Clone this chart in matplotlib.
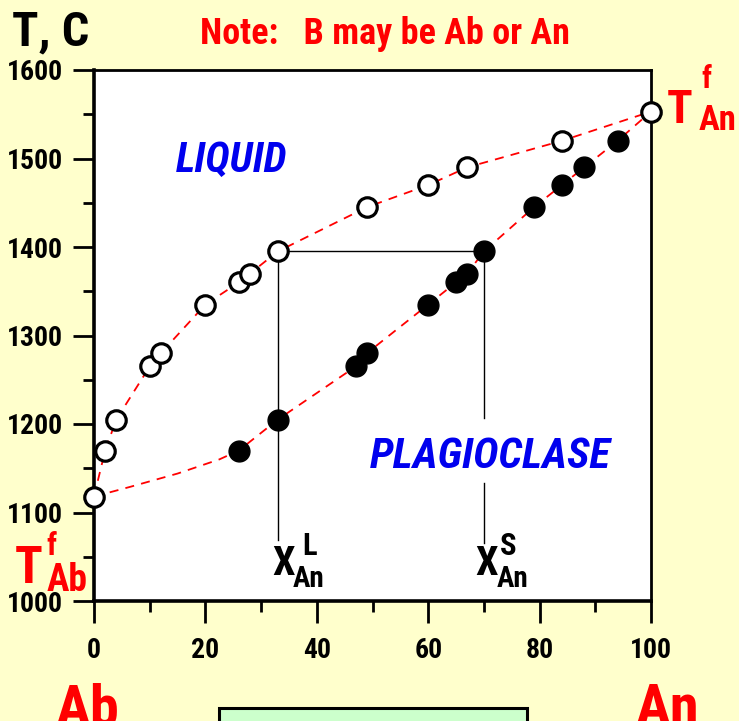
import matplotlib
matplotlib.use('Agg')
import matplotlib.pyplot as plt
from matplotlib.patches import Rectangle

# liquidus (open circles) and solidus (filled circles), X An in %, T in C
liq_x = [0, 2, 4, 10, 12, 20, 26, 28, 33, 49, 60, 67, 84, 100]
liq_t = [1118, 1170, 1205, 1265, 1280, 1335, 1360, 1370, 1395, 1445, 1470, 1490, 1520, 1553]
sol_x = [26, 33, 47, 49, 60, 65, 67, 70, 79, 84, 88, 94]
sol_t = [1170, 1205, 1265, 1280, 1335, 1360, 1370, 1395, 1445, 1470, 1490, 1520]
# dashed solidus curve (runs from pure Ab to pure An)
solc_x = [0, 6.5, 15, 22.5] + sol_x + [100]
solc_t = [1118, 1129, 1144, 1160] + sol_t + [1553]

tie_t = 1395
xl, xs = 33, 70

xticks = [0, 20, 40, 60, 80, 100]
yticks = [1000, 1100, 1200, 1300, 1400, 1500, 1600]

W, H = 739, 721
FONT = ['Liberation Sans Narrow', 'Roboto Condensed', 'Barlow Semi Condensed',
        'Liberation Sans', 'DejaVu Sans']
plt.rcParams['font.family'] = FONT

bg = '#FFFFCC'
fig = plt.figure(figsize=(W/100, H/100), dpi=100, facecolor=bg)
ax = fig.add_axes([94/W, 1-601/H, (651-94)/W, (601-70)/H])
ax.set_facecolor('white')


def ftext(px, py, s, size, color='black', **kw):
    # text placed by its left edge and baseline, in pixels from the top-left corner
    fig.text(px / W, 1 - py / H, s, fontsize=size, color=color, fontweight='bold',
             ha='left', va='baseline', **kw)


dash = (0, (5, 4))
ax.plot(liq_x, liq_t, color='red', lw=1.3, ls=dash, zorder=2)
ax.plot(solc_x, solc_t, color='red', lw=1.3, ls=dash, zorder=2)

# tie line and composition drop lines
ax.plot([xl, xs], [tie_t, tie_t], color='black', lw=1, zorder=1)
ax.plot([xl, xl], [tie_t, 1069], color='black', lw=1, zorder=1)
ax.plot([xs, xs], [tie_t, 1207], color='black', lw=1, zorder=1)
ax.plot([xs, xs], [1133, 1066], color='black', lw=1, zorder=1)

ax.plot(sol_x, sol_t, 'o', ms=15, mfc='black', mec='black', mew=1, zorder=3, clip_on=False)
ax.plot(liq_x, liq_t, 'o', ms=14, mfc='white', mec='black', mew=2.3, zorder=4, clip_on=False)

ax.set_xlim(0, 100)
ax.set_ylim(1000, 1600)
ax.set_xticks(xticks)
ax.set_xticks(range(10, 100, 20), minor=True)
ax.set_yticks(yticks)
ax.set_yticks(range(1050, 1600, 100), minor=True)
ax.tick_params(which='major', direction='out', length=15, width=2, labelsize=20, colors='black')
ax.tick_params(which='minor', direction='out', length=8, width=2)
ax.tick_params(axis='x', which='major', length=16, pad=10)
ax.tick_params(axis='y', which='major', pad=7.5)
for lab in ax.get_xticklabels() + ax.get_yticklabels():
    lab.set_fontweight('bold')
for side in ['left', 'bottom']:
    ax.spines[side].set_linewidth(2.6)
for side in ['top', 'right']:
    ax.spines[side].set_linewidth(2)

# field names
ftext(176, 172, 'LIQUID', 30, color='#0000EE', fontstyle='italic')
ftext(370, 468, 'PLAGIOCLASE', 31, color='#0000EE', fontstyle='italic')

# compositions of the coexisting liquid and solid
ftext(272, 575, 'X', 29)
ftext(302, 555, 'L', 22)
ftext(293, 587, 'An', 21)
ftext(475, 575, 'X', 29)
ftext(500, 555, 'S', 22)
ftext(497, 587, 'An', 21)

# melting points of the end members
ftext(15, 583, 'T', 37, color='red')
ftext(46, 555, 'f', 22, color='red')
ftext(47, 591, 'Ab', 27, color='red')
ftext(667, 123, 'T', 34, color='red')
ftext(701, 88, 'f', 22, color='red')
ftext(699, 130, 'An', 25, color='red')

ftext(12, 45, 'T, C', 35)
ftext(200, 44, 'Note:   B may be Ab or An', 26, color='red')
ftext(55, 725, 'Ab', 42, color='red')
ftext(635, 725, 'An', 42, color='red')

fig.patches.append(Rectangle((219/W, 1-740/H), (527-219)/W, (740-708)/H,
                             transform=fig.transFigure, facecolor='#CCFFCC',
                             edgecolor='black', lw=2.2))

fig.savefig('out.png', dpi=100, facecolor=bg)
